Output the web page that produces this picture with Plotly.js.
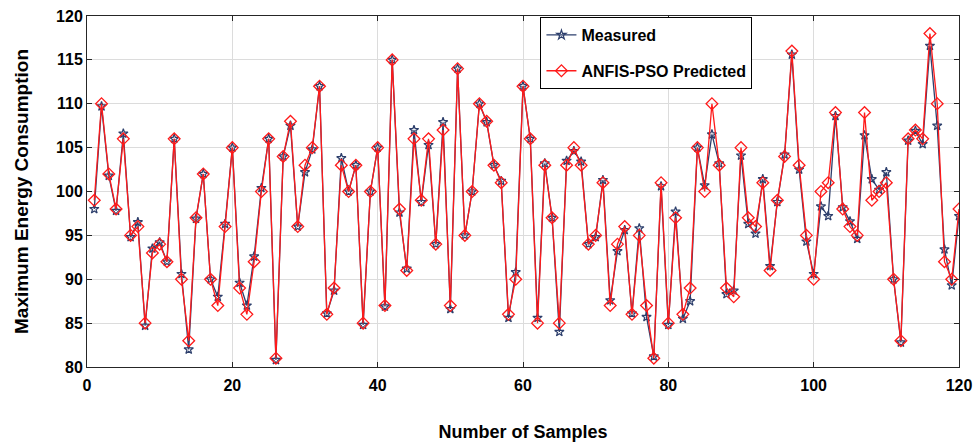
<!DOCTYPE html>
<html>
<head>
<meta charset="utf-8">
<script src="https://cdn.plot.ly/plotly-3.0.1.min.js"></script>
<style>html,body{margin:0;padding:0;background:#fff;}#chart{width:975px;height:443px;}</style>
</head>
<body>
<div id="chart"></div>
<script>
var seriesNames = ["Measured", "ANFIS-PSO Predicted"];
var xTitle = "Number of Samples";
var yTitle = "Maximum Energy Consumption";

var measured = [
  98, 109.7, 101.8, 97.8, 106.6, 94.8, 96.5, 84.7, 93.5, 94.2,
  92, 106, 90.6, 82, 96.9, 102, 90, 88, 96.3, 105,
  89.6, 87, 92.6, 100.4, 106, 80.8, 104, 107.5, 96, 102.2,
  104.8, 112, 86.1, 88.7, 103.8, 100, 103, 84.8, 100, 105,
  86.9, 115, 97.6, 91.2, 107, 98.8, 105.3, 94, 107.9, 86.6,
  114, 95, 100, 110, 107.9, 103, 101.2, 85.6, 90.8, 112,
  106, 85.6, 103.2, 97, 84, 103.5, 104.6, 103.4, 94, 94.8,
  101.3, 87.6, 93.2, 95.6, 86.1, 95.8, 85.7, 81.2, 100.6, 84.8,
  97.7, 85.5, 87.5, 105, 100.7, 106.5, 103.2, 88.3, 88.7, 104.1,
  96.3, 95.2, 101.4, 91.5, 98.8, 104.2, 115.6, 102.5, 94.3, 90.6,
  98.3, 97.2, 108.6, 98.2, 96.6, 94.6, 106.4, 101.4, 100.2, 102.2,
  90, 82.8, 105.8, 106.9, 105.4, 116.6, 107.5, 93.4, 89.3, 97.2
];
var predicted = [
  99, 110, 102, 98, 106, 95, 96, 85, 93, 94,
  92, 106, 90, 83, 97, 102, 90, 87, 96, 105,
  89, 86, 92, 100, 106, 81, 104, 108, 96, 103,
  105, 112, 86, 89, 103, 100, 103, 85, 100, 105,
  87, 115, 98, 91, 106, 99, 106, 94, 107, 87,
  114, 95, 100, 110, 108, 103, 101, 86, 90, 112,
  106, 85, 103, 97, 85, 103, 105, 103, 94, 95,
  101, 87, 94, 96, 86, 95, 87, 81, 101, 85,
  97, 86, 89, 105, 100, 110, 103, 89, 88, 105,
  97, 96, 101, 91, 99, 104, 116, 103, 95, 90,
  100, 101, 109, 98, 96, 95, 109, 99, 100, 101,
  90, 83, 106, 107, 106, 118, 110, 92, 90, 98
];
var samples = measured.map(function (_, i) { return i + 1; });

var xTickVals = [0, 20, 40, 60, 80, 100, 120];
var yTickVals = [80, 85, 90, 95, 100, 105, 110, 115, 120];

var tickFont = {family: "Liberation Sans, Arial, sans-serif", size: 16, color: "#000", weight: "bold"};

var traces = [
  {
    x: samples, y: measured, name: seriesNames[0], type: "scatter", mode: "lines+markers",
    legendgroup: "a",
    line: {color: "#2d3f6c", width: 1.3},
    marker: {symbol: "star-open", size: 7, color: "#2d3f6c", line: {width: 1.2, color: "#2d3f6c"}}
  },
  {
    x: samples, y: predicted, name: seriesNames[1], type: "scatter", mode: "lines+markers",
    legendgroup: "b",
    line: {color: "#ff1a1a", width: 1.3},
    marker: {symbol: "diamond-open", size: 9, color: "#ff1a1a", line: {width: 1.3, color: "#ff1a1a"}}
  }
];

var layout = {
  width: 975, height: 443,
  margin: {l: 87, r: 16, t: 16, b: 76},
  paper_bgcolor: "#fff", plot_bgcolor: "#fff",
  showlegend: true,
  legend: {
    x: 0.52, y: 0.997, xanchor: "left", yanchor: "top",
    bgcolor: "#fff", bordercolor: "#000", borderwidth: 1,
    font: {family: "Liberation Sans, Arial, sans-serif", size: 16, color: "#000", weight: "bold"},
    tracegroupgap: 12
  },
  xaxis: {
    range: [0, 120], tickvals: xTickVals, ticktext: xTickVals.map(String),
    showgrid: true, gridcolor: "#dcdcdc", gridwidth: 1,
    showline: true, linecolor: "#262626", linewidth: 1, mirror: "ticks",
    ticks: "inside", ticklen: 5, tickcolor: "#262626",
    ticklabelstandoff: 4,
    zeroline: false, tickfont: tickFont,
    title: {text: xTitle, standoff: 32, font: {family: "Liberation Sans, Arial, sans-serif", size: 18, color: "#000", weight: "bold"}}
  },
  yaxis: {
    range: [80, 120], tickvals: yTickVals, ticktext: yTickVals.map(String),
    showgrid: true, gridcolor: "#dcdcdc", gridwidth: 1,
    showline: true, linecolor: "#262626", linewidth: 1, mirror: "ticks",
    ticks: "inside", ticklen: 5, tickcolor: "#262626",
    zeroline: false, tickfont: tickFont,
    title: {text: yTitle, standoff: 22, font: {family: "Liberation Sans, Arial, sans-serif", size: 19, color: "#000", weight: "bold"}}
  }
};

Plotly.newPlot("chart", traces, layout, {displayModeBar: false, staticPlot: true});
</script>
</body>
</html>
